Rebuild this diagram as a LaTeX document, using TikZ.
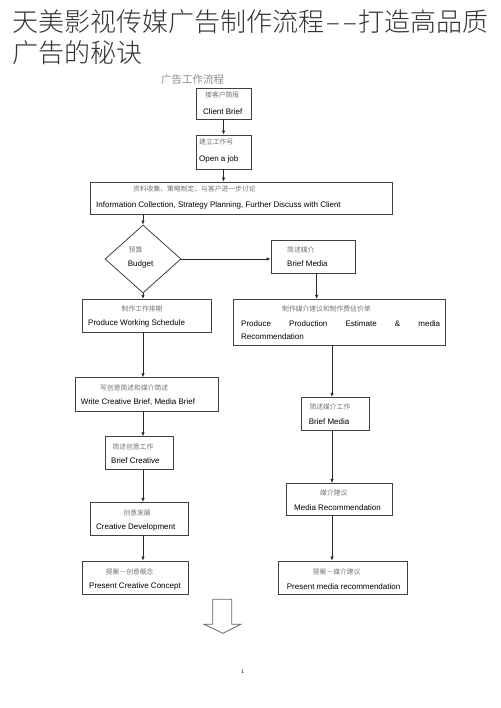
\documentclass[tikz,border=0pt]{standalone}
\usepackage{fontspec}
\setmainfont{Liberation Sans}
\newfontfamily\zh{Noto Sans CJK SC}
\IfFontExistsTF{Noto Sans CJK SC Light}
  {\newfontfamily\zhtitle{Noto Sans CJK SC Light}}
  {\newfontfamily\zhtitle{Noto Sans CJK SC}}
\usetikzlibrary{arrows.meta,shapes.geometric}

\tikzset{
  box/.style={draw=black!75, line width=.8pt, rectangle, inner sep=0pt},
  zh/.style={anchor=west, inner sep=0pt, text=black!55, font=\zh\fontsize{6.8}{8}\selectfont},
  en/.style={anchor=west, inner sep=0pt, font=\fontsize{8}{9}\selectfont},
  title/.style={anchor=west, inner sep=0pt, text=black!80, font=\zhtitle\fontsize{26}{31}\selectfont},
  flow/.style={-{Latex[length=4pt,width=3.5pt]}, black!85, line width=.7pt}
}

\begin{document}
\begin{tikzpicture}[x=1pt,y=-1pt]
\useasboundingbox (0,0) rectangle (500,708);

% title
\node[title] (T1) at (12,22) {天美影视传媒广告制作流程\kern2pt–\kern3pt–\kern2pt打造高品质};
\node[title] (T2) at (12,53) {广告的秘诀};
\node[anchor=west, inner sep=0pt, text=black!45, font=\zh\fontsize{10.5}{12}\selectfont] (T3) at (161,80) {广告工作流程};

% columns for the vertical arrows
\coordinate (colL) at (143,0);
\coordinate (colR) at (332,0);

% boxes
\node[box, minimum width=55, minimum height=31] (CB) at (223.5,103.7) {};
\node[zh] (CB-zh) at (205,95) {接客户简报};
\node[en] (CB-en) at (203,111.7) {Client Brief};

\node[box, minimum width=55, minimum height=34] (OJ) at (223.5,152) {};
\node[zh] (OJ-zh) at (199,141.7) {建立工作号};
\node[en] (OJ-en) at (199,159.3) {Open a job};

\node[box, minimum width=301.3, minimum height=32.3] (IC) at (241.3,198.2) {};
\node[zh] (IC-zh) at (133,189.3) {资料收集、策略制定、与客户进一步讨论};
\node[en] (IC-en) at (96,205.7) {Information Collection, Strategy Planning, Further Discuss with Client};

\node[box, diamond, aspect=1.12, minimum width=76, minimum height=68] (BG) at (143,259) {};
\node[zh] (BG-zh) at (128.5,250) {预算};
\node[en] (BG-en) at (127.7,264) {Budget};

\node[box, minimum width=84, minimum height=32.3] (BM1) at (313,257) {};
\node[zh] (BM1-zh) at (287,250) {简述媒介};
\node[en] (BM1-en) at (287,264) {Brief Media};

\node[box, minimum width=128.3, minimum height=33.4] (PWS) at (146.9,316) {};
\node[zh] (PWS-zh) at (121.5,309) {制作工作排期};
\node[en] (PWS-en) at (88,323.3) {Produce Working Schedule};

\node[box, minimum width=211.7, minimum height=46.4] (PPE) at (339.2,322.5) {};
\node[zh] (PPE-zh) at (282,309) {制作媒介建议和制作费估价单};
\node[en] (PPE-en) at (241,323.3) {\makebox[199pt][s]{Produce Production Estimate \& media}};
\node[en] (PPE-en2) at (241,336.7) {Recommendation};

\node[box, minimum width=143.7, minimum height=33.3] (WCB) at (146.9,394.3) {};
\node[zh] (WCB-zh) at (100,388.3) {写创意简述和媒介简述};
\node[en] (WCB-en) at (80.7,402.3) {Write Creative Brief, Media Brief};

\node[box, minimum width=68, minimum height=32.6] (BC) at (139.3,453) {};
\node[zh] (BC-zh) at (112.3,447.3) {简述创意工作};
\node[en] (BC-en) at (111,461) {Brief Creative};

\node[box, minimum width=98.3, minimum height=32.7] (CD) at (139.2,518.7) {};
\node[zh] (CD-zh) at (123.3,513.3) {创意发展};
\node[en] (CD-en) at (96,527.3) {Creative Development};

\node[box, minimum width=106, minimum height=33] (PCC) at (135.3,577.5) {};
\node[zh] (PCC-zh) at (105.7,571.7) {提案－创意概念};
\node[en] (PCC-en) at (89,586.7) {Present Creative Concept};

\node[box, minimum width=68.3, minimum height=33.4] (BM2) at (335.2,414) {};
\node[zh] (BM2-zh) at (309.3,407.3) {简述媒介工作};
\node[en] (BM2-en) at (308.7,421.7) {Brief Media};

\node[box, minimum width=105.6, minimum height=31.7] (MR) at (339.5,499.2) {};
\node[zh] (MR-zh) at (320,493.3) {媒介建议};
\node[en] (MR-en) at (294,507.3) {Media Recommendation};

\node[box, minimum width=128.6, minimum height=33] (PMR) at (343,577.5) {};
\node[zh] (PMR-zh) at (312.7,571.7) {提案－媒介建议};
\node[en] (PMR-en) at (286.7,586.7) {Present media recommendation};

% arrows
\draw[flow] (CB) -- (OJ);
\draw[flow] (OJ) -- (OJ |- IC.north);
\draw[flow] (IC.south -| colL) -- (BG.north);
\draw[flow] (BG.east) -- (BG.east -| BM1.west);
\draw[flow] (BG.south) -- (BG.south |- PWS.north);
\draw[flow] (BM1.south -| 316.7,0) -- (PPE.north -| 316.7,0);
\draw[flow] (PWS.south -| colL) -- (WCB.north -| colL);
\draw[flow] (WCB.south -| colL) -- (BC.north -| colL);
\draw[flow] (BC.south -| colL) -- (CD.north -| colL);
\draw[flow] (CD.south -| colL) -- (PCC.north -| colL);
\draw[flow] (PPE.south -| colR) -- (BM2.north -| colR);
\draw[flow] (BM2.south -| colR) -- (MR.north -| colR);
\draw[flow] (MR.south -| colR) -- (PMR.north -| colR);

% hollow down arrow
\draw[black!60, line width=.8pt] (212.7,599.3) -- (231.7,599.3) -- (231.7,624.3) -- (240.7,624.3)
  -- (223,633.3) -- (204,624.3) -- (212.7,624.3) -- cycle;

\node[inner sep=0pt, font=\fontsize{5}{6}\selectfont] (PG) at (242.7,671.7) {1};
\end{tikzpicture}
\end{document}
